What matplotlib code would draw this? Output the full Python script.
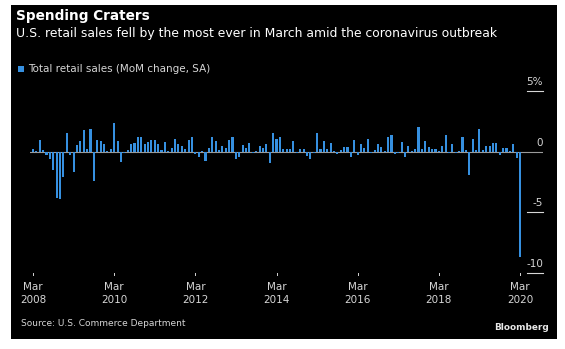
import numpy as np
import matplotlib as mpl
mpl.use("Agg")
import matplotlib.pyplot as plt
from matplotlib.patches import Rectangle

# Month-on-month change in total US retail sales, Mar 2008 .. Mar 2020 (%)
retail_mom = [
    0.25, 0.05, 0.94, 0.10, -0.28, -0.64, -1.47, -3.80, -3.90, -2.10,
    1.53, -0.30, -1.67, 0.55, 0.90, 1.78, 0.25, 1.83, -2.40, 0.94,
    0.90, 0.60, 0.05, 0.25, 2.40, 0.90, -0.86, -0.10, 0.15, 0.60,
    0.75, 1.17, 1.17, 0.60, 0.83, 0.94, 0.94, 0.67, 0.10, 0.83,
    0.05, 0.33, 1.03, 0.67, 0.47, 0.20, 0.94, 1.22, -0.22, -0.44,
    0.05, -0.78, 0.33, 1.22, 0.90, 0.15, 0.47, 0.33, 0.94, 1.22,
    -0.62, -0.40, 0.55, 0.33, 0.75, -0.10, 0.05, 0.47, 0.33, 0.60,
    -0.92, 1.53, 1.08, 1.17, 0.25, 0.25, 0.25, 0.90, -0.10, 0.25,
    0.25, -0.36, -0.60, -0.10, 1.50, 0.25, 0.90, 0.25, 0.75, 0.05,
    -0.20, 0.10, 0.42, 0.42, -0.44, 0.94, -0.28, 0.60, 0.33, 1.08,
    -0.10, 0.15, 0.60, 0.40, 0.05, 1.17, 1.36, -0.22, -0.10, 0.80,
    -0.44, 0.47, 0.05, 0.25, 2.00, 0.25, 0.90, 0.40, 0.25, 0.25,
    0.05, 0.47, 1.35, -0.10, 0.60, -0.10, 0.05, 1.22, 0.15, -1.95,
    1.03, 0.10, 1.86, 0.15, 0.47, 0.47, 0.75, 0.70, -0.28, 0.28,
    0.28, 0.05, 0.67, -0.50, -8.70,
]
month_idx = np.arange(len(retail_mom))

# x labels every two years at March
xtick_pos = [0, 24, 48, 72, 96, 120, 144]
xtick_labels = ["Mar\n2008", "Mar\n2010", "Mar\n2012", "Mar\n2014",
                "Mar\n2016", "Mar\n2018", "Mar\n2020"]
ytick_pos = [5, 0, -5, -10]
ytick_labels = ["5%", "0", "-5", "-10"]

W, H = 565, 349
BAR_COLOR = "#3690e0"
TEXT_COLOR = "#d6d6d6"
GRID_COLOR = "#9a9a9a"


def px(x, y):
    """pixel coords (from top-left) -> figure fraction"""
    return x / W, 1 - y / H


def main():
    fig = plt.figure(figsize=(W / 100, H / 100), dpi=100)
    fig.patch.set_facecolor("white")

    # black panel, behind the axes
    x0, y0 = px(11, 339)
    x1, y1 = px(557, 5)
    fig.patches.append(Rectangle((x0, y0), x1 - x0, y1 - y0,
                                 transform=fig.transFigure,
                                 facecolor="black", edgecolor="none", zorder=-5))

    left, bottom = px(30, 273)
    right, top = px(543, 91)
    ax = fig.add_axes([left, bottom, right - left, top - bottom])
    ax.set_facecolor("none")

    ax.bar(month_idx, retail_mom, width=0.62, color=BAR_COLOR, zorder=3)
    ax.axhline(0, color=GRID_COLOR, lw=0.8, zorder=2)

    ax.set_xlim(-0.89, 150.8)
    ax.set_ylim(-10, 5)
    for s in ax.spines.values():
        s.set_visible(False)
    ax.set_xticks([])
    ax.set_yticks([])

    # right-hand y labels with short rules underneath
    for v, lab in zip(ytick_pos, ytick_labels):
        if v != 0:
            ax.plot([0.968, 1.0], [v, v], transform=ax.get_yaxis_transform(),
                    color=TEXT_COLOR, lw=0.8, clip_on=False)
        ax.annotate(lab, xy=(1.0, v), xycoords=ax.get_yaxis_transform(),
                    xytext=(0, 3), textcoords="offset points",
                    ha="right", va="bottom", color=TEXT_COLOR, fontsize=7.5)

    # bottom labels with small tick marks
    for p, lab in zip(xtick_pos, xtick_labels):
        ax.plot([p, p], [0, -0.012], transform=ax.get_xaxis_transform(),
                color=TEXT_COLOR, lw=0.7, clip_on=False)
        ax.annotate(lab, xy=(p, 0), xycoords=ax.get_xaxis_transform(),
                    xytext=(0, -6.5), textcoords="offset points",
                    ha="center", va="top", color=TEXT_COLOR, fontsize=7.5,
                    linespacing=1.35)

    fig.text(*px(16, 16), "Spending Craters", fontsize=9.8, fontweight="bold",
             color="white", ha="left", va="center")
    fig.text(*px(16, 33), "U.S. retail sales fell by the most ever in March amid the coronavirus outbreak",
             fontsize=8.9, color="white", ha="left", va="center")

    lx, ly = px(18, 72)
    lx2, ly2 = px(24, 66)
    fig.patches.append(Rectangle((lx, ly), lx2 - lx, ly2 - ly,
                                 transform=fig.transFigure,
                                 facecolor=BAR_COLOR, edgecolor="none"))
    fig.text(*px(28, 69), "Total retail sales (MoM change, SA)", fontsize=7.45,
             color=TEXT_COLOR, ha="left", va="center")

    fig.text(*px(21, 324), "Source: U.S. Commerce Department", fontsize=6.5,
             color=TEXT_COLOR, ha="left", va="center")
    fig.text(*px(549, 328), "Bloomberg", fontsize=6.4, fontweight="bold",
             color="#e8e8e8", ha="right", va="center")

    fig.savefig("out.png", dpi=100, facecolor=fig.get_facecolor())
    plt.close(fig)


if __name__ == "__main__":
    main()
